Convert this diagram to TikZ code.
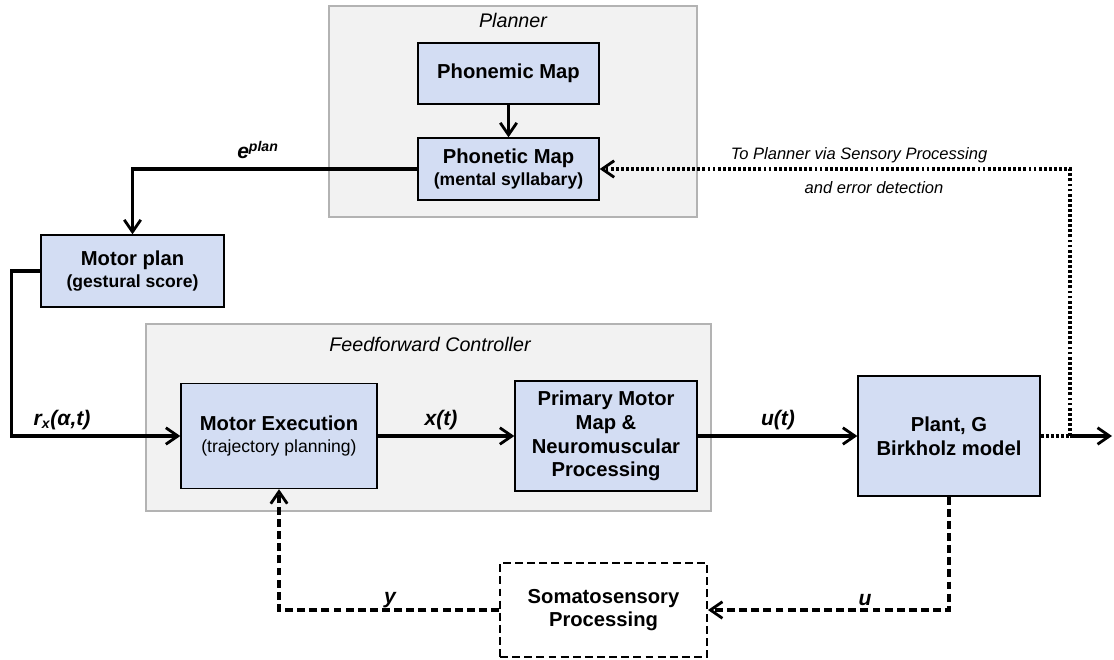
\documentclass[tikz,border=0pt]{standalone}
\usepackage{fontspec}
\setmainfont{Liberation Sans}
\usetikzlibrary{arrows.meta}
\definecolor{boxblue}{HTML}{D3DDF3}
\definecolor{groupgray}{HTML}{F2F2F2}
\definecolor{groupline}{HTML}{B3B3B3}
\begin{document}
\begin{tikzpicture}[x=0.02cm,y=-0.02cm,
  >={Straight Barb[length=2.4mm,width=3.3mm,line width=1.6pt]},
  block/.style={draw,line width=0.8pt,fill=boxblue,align=center,
    font=\fontsize{11.5}{13.5}\selectfont\bfseries},
  group/.style={draw=groupline,line width=0.9pt,fill=groupgray},
  wire/.style={line width=1.8pt},
  lbl/.style={font=\fontsize{12}{14}\selectfont\bfseries\itshape},
  note/.style={font=\fontsize{9.4}{11}\selectfont\itshape},
  dashline/.style={wire,dash pattern=on 4.5pt off 2.4pt},
  dotline/.style={wire,dash pattern=on 1.6pt off 1.3pt}]
\useasboundingbox (0,0) rectangle (1114,659);
\fill[white] (0,0) rectangle (1114,659);
\draw[group] (329,6) rectangle (697,217);
\draw[group] (146,324) rectangle (711,511);
\node[font=\fontsize{11.2}{13}\selectfont\itshape] (plannerlbl) at (513,20) {Planner};
\node[font=\fontsize{11.2}{13}\selectfont\itshape] (fflbl) at (430,344) {Feedforward Controller};
\node[block,minimum width=3.62cm,minimum height=1.22cm] (phonemic) at (508.5,73.5) {Phonemic Map};
\node[block,minimum width=3.62cm,minimum height=1.24cm] (phonetic) at (508.5,169) {Phonetic Map\\[-1pt]{\fontsize{10}{12}\selectfont(mental syllabary)}};
\node[block,minimum width=3.66cm,minimum height=1.44cm] (motorplan) at (132.5,271) {Motor plan\\[-1pt]{\fontsize{10}{12}\selectfont(gestural score)}};
\node[block,minimum width=3.92cm,minimum height=2.1cm] (motorexec) at (279,436) {Motor Execution\\[-1pt]{\fontsize{10}{12}\selectfont\mdseries(trajectory planning)}};
\node[block,minimum width=3.64cm,minimum height=2.2cm] (primary) at (606,436) {Primary Motor\\Map \&\\Neuromuscular\\Processing};
\node[block,minimum width=3.64cm,minimum height=2.4cm] (plant) at (949,436) {Plant, G\\Birkholz model};
\node[block,fill=white,dashline,line width=1.1pt,minimum width=4.14cm,minimum height=1.88cm] (soma) at (603.5,610) {Somatosensory\\Processing};
\coordinate (tap) at (1070,436);
\coordinate (out) at (1112,436);
\draw[wire,->] (phonemic) -- (phonetic);
\draw[wire,->] (phonetic.west) -| (motorplan.north);
\draw[wire,->] (motorplan.west) -- ++(-29,0) |- (motorexec.west);
\draw[wire,->] (motorexec) -- (primary);
\draw[wire,->] (primary) -- (plant);
\draw[dotline] (plant.east) -- (tap);
\draw[wire,->] (tap) -- (out);
\draw[dotline,->] (tap) |- (phonetic.east);
\draw[dashline,->] (plant.south) |- (soma.east);
\draw[dashline,->] (soma.west) -| (motorexec.south);
\node[lbl] (eplan) at (258,150) {e\textsuperscript{plan}};
\node[lbl] (rx) at (62,420) {r\textsubscript{x}(α,t)};
\node[lbl] (xt) at (441,420) {x(t)};
\node[lbl] (ut) at (778,420) {u(t)};
\node[lbl] (ylbl) at (390,600) {y};
\node[lbl] (ulbl) at (865,600) {u};
\node[note] (tonote) at (859,155) {To Planner via Sensory Processing};
\node[note] (errnote) at (874,188) {and error detection};
\end{tikzpicture}
\end{document}
